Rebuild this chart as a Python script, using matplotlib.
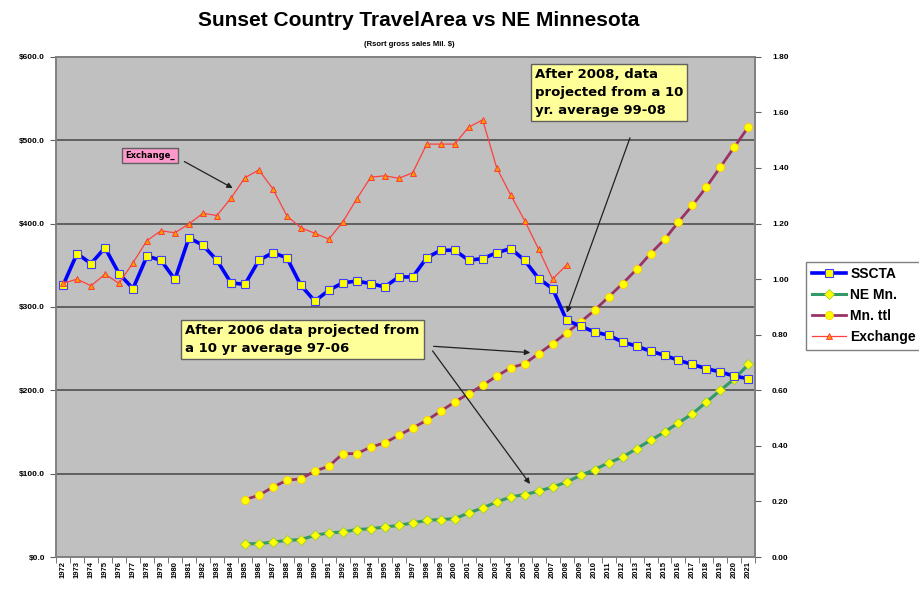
import numpy as np
import matplotlib.pyplot as plt
from matplotlib.lines import Line2D

plt.rcParams['font.family'] = ['Liberation Sans', 'DejaVu Sans']

years = list(range(1972, 2022))

# Resort gross sales, Mil. $ (left axis)
sscta = [326, 364, 352, 371, 340, 322, 361, 356, 333, 383,
         374, 356, 329, 327, 356, 365, 359, 326, 307, 320,
         329, 331, 328, 324, 336, 336, 359, 368, 368, 356,
         358, 365, 370, 356, 334, 322, 284, 277, 270, 266,
         258, 253, 247, 242, 236, 231, 226, 222, 217, 214]

# NE Mn. and Mn. ttl start in 1985
proj_years = list(range(1985, 2022))
ne_mn = [16, 16, 18, 20, 21, 26, 29, 30, 33, 34,
         36, 38, 41, 44, 45, 46, 53, 59, 66, 72,
         75, 79, 84, 90, 98, 105, 113, 120, 130, 140,
         150, 161, 172, 186, 200, 214, 231]
mn_ttl = [69, 74, 84, 92, 94, 103, 109, 124, 124, 132,
          137, 146, 155, 164, 175, 186, 196, 206, 217, 227,
          232, 244, 256, 269, 282, 296, 312, 328, 345, 364,
          381, 402, 422, 444, 468, 492, 516]

# Exchange rate (right axis), 1972-2008
exch_years = list(range(1972, 2009))
exchange = [0.985, 1.000, 0.976, 1.018, 0.985, 1.059, 1.139, 1.174, 1.167, 1.199,
            1.237, 1.229, 1.291, 1.365, 1.393, 1.325, 1.228, 1.185, 1.165, 1.144,
            1.206, 1.289, 1.367, 1.372, 1.363, 1.383, 1.486, 1.486, 1.486, 1.547,
            1.573, 1.401, 1.303, 1.211, 1.108, 1.000, 1.051]

left_ticks = [0, 100, 200, 300, 400, 500, 600]
left_labels = ['$0.0', '$100.0', '$200.0', '$300.0', '$400.0', '$500.0', '$600.0']
right_ticks = [0.0, 0.2, 0.4, 0.6, 0.8, 1.0, 1.2, 1.4, 1.6, 1.8]

x_all = np.arange(len(years))
x_proj = np.array([years.index(y) for y in proj_years])
x_exch = np.array([years.index(y) for y in exch_years])

fig = plt.figure(figsize=(9.19, 5.92), dpi=100)
ax = fig.add_axes([0.061, 0.059, 0.761, 0.845])
ax.set_facecolor('#c0c0c0')
ax2 = ax.twinx()

# gridlines
for v in left_ticks[1:-1]:
    ax.axhline(v, color='#505050', lw=1.2, zorder=1)

sty_ss = dict(color='#0000ff', lw=2.6, marker='s', ms=6, mfc='#ffff00', mec='#4040ff', mew=0.8)
sty_ne = dict(color='#339966', lw=2.2, marker='D', ms=5.2, mfc='#ffff00', mec='#99cc33', mew=0.6)
sty_mn = dict(color='#993366', lw=2.0, marker='o', ms=5.8, mfc='#ffff00', mec='#ffcc00', mew=0.6)
sty_ex = dict(color='#ff4040', lw=0.9, marker='^', ms=4.5, mfc='#ff9900', mec='#ff3030', mew=0.6)

ax.plot(x_all, sscta, zorder=4, **sty_ss)
ax.plot(x_proj, ne_mn, zorder=3, **sty_ne)
ax.plot(x_proj, mn_ttl, zorder=3, **sty_mn)
ax2.plot(x_exch, exchange, zorder=3, **sty_ex)

ax.set_xlim(-0.5, len(years) - 0.5)
ax.set_ylim(0, 600)
ax2.set_ylim(0, 1.8)

ax.set_yticks(left_ticks)
ax.set_yticklabels(left_labels, fontsize=6, fontweight='bold')
ax2.set_yticks(right_ticks)
ax2.set_yticklabels(['%.2f' % t for t in right_ticks], fontsize=6, fontweight='bold')

ax.set_xticks(x_all)
ax.set_xticklabels([str(y) for y in years], rotation=90, fontsize=5.5, fontweight='bold')
ax.set_xticks(np.arange(-0.5, len(years), 1.0), minor=True)
ax.tick_params(axis='x', which='major', length=0, pad=3)
ax.tick_params(axis='x', which='minor', length=4, color='#606060')
ax.tick_params(axis='y', length=4, color='#606060', pad=4)
ax2.tick_params(axis='y', length=4, color='#606060', pad=8)

for a in (ax, ax2):
    for s in a.spines.values():
        s.set_color('#808080')
        s.set_linewidth(1.2)

# title and subtitle
fig.text(0.456, 0.966, 'Sunset Country TravelArea vs NE Minnesota',
         ha='center', va='center', fontsize=15, fontweight='bold')
fig.text(0.445, 0.925, '(Rsort gross sales Mil. $)', ha='center', va='center',
         fontsize=5.5, fontweight='bold')

# annotations
box_font = ['DejaVu Sans', 'Liberation Sans']
arrow = dict(arrowstyle='-|>', color='#202020', lw=0.9, mutation_scale=8)
ax.text(6.2, 482, 'Exchange_', ha='center', va='center', fontsize=6,
        fontweight='bold', family=box_font, zorder=6,
        bbox=dict(boxstyle='square,pad=0.35', fc='#ff99cc', ec='#606060', lw=1))
ax.annotate('', xy=(12.3, 441), xytext=(8.5, 476), arrowprops=arrow, zorder=6)

ax.text(33.75, 587, 'After 2008, data\nprojected from a 10\nyr. average 99-08',
        ha='left', va='top', fontsize=9.5, fontweight='bold', family=box_font,
        linespacing=1.5, zorder=6,
        bbox=dict(boxstyle='square,pad=0.3', fc='#ffff99', ec='#606060', lw=1))
ax.annotate('', xy=(35.95, 290), xytext=(40.6, 506), arrowprops=arrow, zorder=6)

ax.text(8.75, 280, 'After 2006 data projected from\na 10 yr average 97-06',
        ha='left', va='top', fontsize=9.5, fontweight='bold', family=box_font,
        linespacing=1.5, zorder=6,
        bbox=dict(boxstyle='square,pad=0.3', fc='#ffff99', ec='#606060', lw=1))
ax.annotate('', xy=(33.6, 245), xytext=(26.3, 253), arrowprops=arrow, zorder=6)
ax.annotate('', xy=(33.5, 85), xytext=(26.3, 250), arrowprops=arrow, zorder=6)

# legend
handles = [Line2D([], [], **sty_ss), Line2D([], [], **sty_ne),
           Line2D([], [], **sty_mn), Line2D([], [], **sty_ex)]
leg = fig.legend(handles, ['SSCTA', 'NE Mn.', 'Mn. ttl', 'Exchange'],
                 loc='upper left', bbox_to_anchor=(0.877, 0.558),
                 prop={'size': 10, 'weight': 'bold'}, frameon=True, fancybox=False,
                 handlelength=2.5, handletextpad=0.3, labelspacing=0.5,
                 borderpad=0.4, borderaxespad=0)
leg.get_frame().set_edgecolor('#606060')
leg.get_frame().set_linewidth(1)

plt.savefig('out.png', dpi=100)
